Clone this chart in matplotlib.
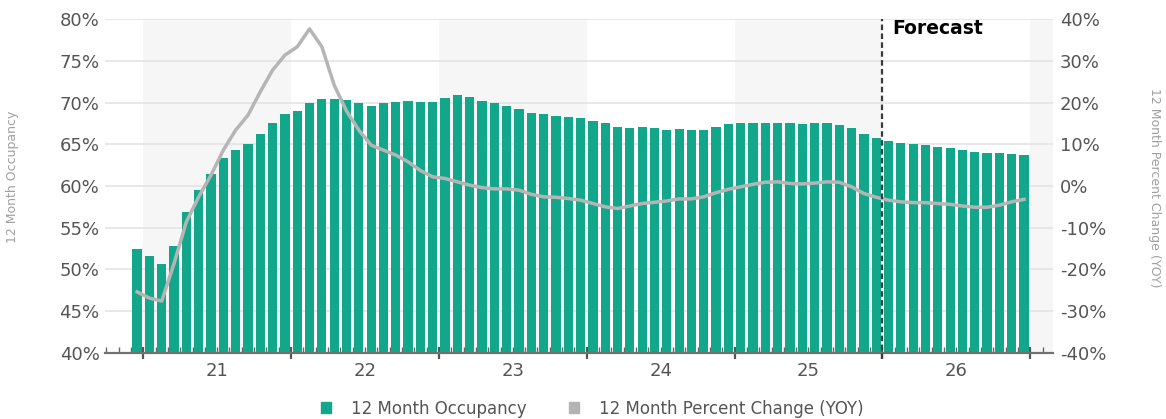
import numpy as np
import matplotlib.pyplot as plt
from matplotlib.patches import Patch
from matplotlib import font_manager

# monthly values, Dec 2020 .. Dec 2026
years = ['21', '22', '23', '24', '25', '26']
occupancy = [
    52.5,
    51.6, 50.7, 52.8, 56.9, 59.5, 61.4, 63.4, 64.3, 65.0, 66.2, 67.5, 68.6,
    69.0, 69.9, 70.4, 70.4, 70.3, 70.0, 69.6, 70.0, 70.1, 70.2, 70.1, 70.1,
    70.6, 70.9, 70.7, 70.2, 69.9, 69.6, 69.2, 68.7, 68.6, 68.4, 68.3, 68.1,
    67.8, 67.5, 67.1, 67.0, 67.1, 66.9, 66.7, 66.8, 66.7, 66.7, 67.1, 67.4,
    67.6, 67.6, 67.6, 67.6, 67.5, 67.4, 67.5, 67.5, 67.3, 66.9, 66.2, 65.7,
    65.4, 65.2, 65.0, 64.9, 64.7, 64.5, 64.3, 64.1, 64.0, 63.9, 63.8, 63.7,
]
yoy = [
    -25.4,
    -26.9, -27.6, -18.6, -8.6, -2.6, 2.6, 8.6, 13.4, 17.0, 22.6, 27.8, 31.4,
    33.4, 37.7, 33.4, 24.2, 18.0, 13.4, 9.8, 8.6, 7.4, 5.8, 3.7, 2.2,
    1.8, 1.0, 0.2, -0.4, -0.7, -0.7, -1.0, -2.0, -2.6, -2.7, -3.0, -3.4,
    -4.2, -5.0, -5.4, -4.8, -4.2, -3.9, -3.6, -3.1, -3.1, -2.6, -1.6, -0.8,
    -0.2, 0.4, 0.9, 1.0, 0.6, 0.5, 0.7, 1.0, 0.9, -0.2, -1.8, -2.7,
    -3.4, -3.8, -4.0, -4.0, -4.2, -4.4, -4.8, -5.1, -5.1, -4.6, -3.8, -3.2,
]
forecast_start = 60  # months after Jan 2021

green = '#12a68a'
grey_line = '#b5b5b5'
txt = '#555555'

# narrow font for the axis titles if there is one
names = {f.name for f in font_manager.fontManager.ttflist}
narrow = 'Liberation Sans Narrow' if 'Liberation Sans Narrow' in names else 'DejaVu Sans'
title_size = 11 if narrow != 'DejaVu Sans' else 9

# month centres, 0 = start of Jan 2021
x = np.arange(len(occupancy)) - 1 + 0.5

fig = plt.figure(figsize=(11.66, 4.19), dpi=100)
ax = fig.add_axes([0.0901, 0.1582, 0.8130, 0.7958])
ax2 = ax.twinx()

xmin, xmax = -3.1, 73.85
# alternating year bands
for start in [0, 24, 48, 72]:
    ax.axvspan(start, min(start + 12, xmax), color='#f6f6f6', zorder=0, lw=0)

ax.bar(x, occupancy, width=0.75, color=green, zorder=2)
ax2.plot(x, yoy, color=grey_line, lw=2.5, solid_joinstyle='round', zorder=3)
ax2.axvline(forecast_start, ymin=-0.02, ymax=1.0, color='#3a3a3a', lw=1.6,
            ls=(0, (2.5, 1.5)), clip_on=False, zorder=4)
ax2.text(forecast_start + 0.8, 37.8, 'Forecast', fontsize=13.5, fontweight='bold',
         color='black', va='center', ha='left')

ax.set_xlim(xmin, xmax)
ax.set_ylim(40, 80)
ax2.set_ylim(-40, 40)

ax.set_yticks(np.arange(40, 81, 5))
ax.set_yticklabels([f'{v}%' for v in range(40, 81, 5)])
ax2.set_yticks(np.arange(-40, 41, 10))
ax2.set_yticklabels([f'{v}%' for v in range(-40, 41, 10)])
ax.tick_params(axis='y', length=0, pad=4, labelsize=13, labelcolor=txt)
ax2.tick_params(axis='y', length=0, pad=5, labelsize=13, labelcolor=txt)

ax.grid(axis='y', color='#e2e2e2', lw=1.1, zorder=1)
ax.set_axisbelow(True)

ax.set_xticks(np.arange(0, 73, 12))
ax.set_xticklabels([])
ax.set_xticks(np.arange(-3, 74, 1), minor=True)
ax.tick_params(axis='x', which='major', direction='inout', length=9, width=1.6,
               color='#555555')
ax.tick_params(axis='x', which='minor', direction='in', length=4, width=1,
               color='#666666')
for i, yr in enumerate(years):
    ax.text(i * 12 + 6, -0.055, yr, transform=ax.get_xaxis_transform(),
            ha='center', va='center', fontsize=13, color=txt)

for a in (ax, ax2):
    for s in ('left', 'right', 'top'):
        a.spines[s].set_visible(False)
ax2.spines['bottom'].set_visible(False)
ax.spines['bottom'].set_color('#707070')
ax.spines['bottom'].set_linewidth(1.6)

fig.text(0.011, 0.578, '12 Month Occupancy', rotation=90, fontsize=title_size,
         family=narrow, color='#a0a0a0', ha='center', va='center')
fig.text(0.990, 0.553, '12 Month Percent Change (YOY)', rotation=270,
         fontsize=title_size, family=narrow, color='#a0a0a0',
         ha='center', va='center')

handles = [Patch(color=green), Patch(color='#b3b3b3')]
fig.legend(handles, ['12 Month Occupancy', '12 Month Percent Change (YOY)'],
           loc='center', bbox_to_anchor=(0.508, 0.025), ncol=2, frameon=False,
           fontsize=12, labelcolor=txt, handlelength=0.6, handleheight=0.6,
           handletextpad=1.2, columnspacing=2.6)

fig.savefig('out.png', dpi=100)
